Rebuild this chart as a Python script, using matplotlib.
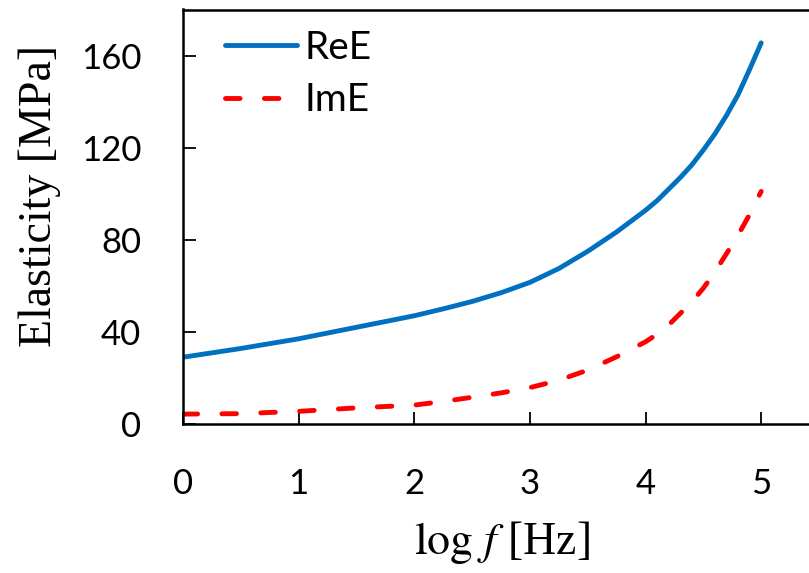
import matplotlib
matplotlib.use("Agg")
import matplotlib.pyplot as plt

# values
log_f = [0.0, 0.5, 1.0, 1.5, 2.0, 2.25, 2.5, 2.75, 3.0, 3.25, 3.5, 3.75, 4.0,
         4.1, 4.2, 4.3, 4.4, 4.5, 4.6, 4.7, 4.8, 4.9, 5.0]
re_e = [29.0, 32.8, 37.0, 42.0, 47.0, 50.0, 53.2, 57.0, 61.5, 67.5, 75.0, 83.4, 92.8,
        97.0, 102.0, 107.0, 112.5, 119.0, 126.0, 134.0, 143.0, 154.0, 165.5]
im_e = [4.3, 4.5, 5.5, 7.0, 8.2, 9.8, 11.6, 13.5, 15.8, 19.0, 23.4, 29.2, 35.7,
        39.0, 43.0, 48.0, 53.0, 59.0, 66.0, 74.0, 82.0, 91.0, 101.0]

x_ticks = [0, 1, 2, 3, 4, 5]
y_ticks = [0, 40, 80, 120, 160]

plt.rcParams['mathtext.fontset'] = 'stix'

fig = plt.figure(figsize=(8.09, 5.73), dpi=100)
ax = fig.add_axes([183 / 809, 149 / 573, 636 / 809, 414.5 / 573])

ax.plot(log_f, re_e, color='#0070C0', lw=3.5, solid_capstyle='round', label='ReE')
ax.plot(log_f, im_e, color='#FF0000', lw=3.5, dashes=(3, 5),
        dash_capstyle='round', label='ImE')

ax.set_xlim(0, 5.5)
ax.set_ylim(0, 180)
ax.set_xticks(x_ticks)
ax.set_yticks(y_ticks)

for s in ax.spines.values():
    s.set_linewidth(1.8)

ax.tick_params(direction='in', length=9, width=1.3, labelsize=25, pad=30)
ax.tick_params(axis='x', pad=32)
for lab in ax.get_xticklabels() + ax.get_yticklabels():
    lab.set_family('Lato')

fig.text(40 / 809, 1 - 196 / 573, 'Elasticity [MPa]', rotation=90,
         ha='center', va='center', family='Liberation Serif', fontsize=33)
fig.text(502 / 809, 1 - 543 / 573, r'$\mathrm{log}\ f\ $[Hz]',
         ha='center', va='center', family='Liberation Serif', fontsize=33)

ax.legend(loc='upper left', bbox_to_anchor=(225 / 809, 1 - 30 / 573),
          bbox_transform=fig.transFigure, frameon=False, borderpad=0,
          borderaxespad=0, handlelength=1.85, handletextpad=0.2,
          labelspacing=0.42, prop={'family': 'Lato', 'size': 28})

fig.savefig('out.png', dpi=100)
